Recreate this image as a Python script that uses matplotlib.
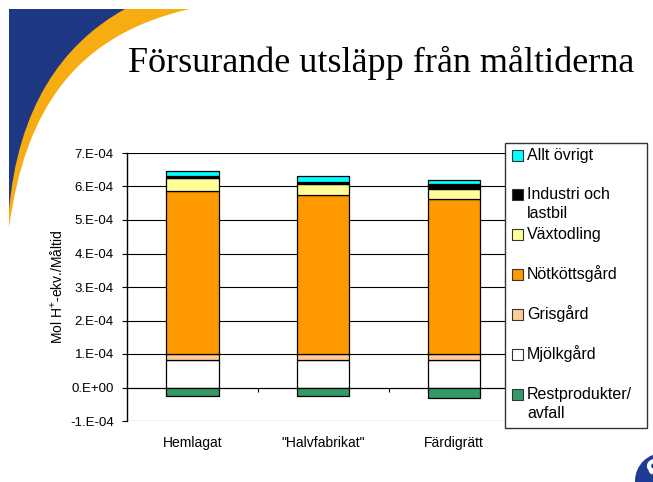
import matplotlib
matplotlib.use("Agg")
import matplotlib.pyplot as plt
import numpy as np
from matplotlib.patches import Rectangle, PathPatch, Circle, Arc
from matplotlib.path import Path
from matplotlib.ticker import FixedLocator, FuncFormatter
from matplotlib.transforms import blended_transform_factory

plt.rcParams["font.family"] = ["Liberation Sans", "DejaVu Sans"]
plt.rcParams["mathtext.fontset"] = "custom"
plt.rcParams["mathtext.rm"] = "Liberation Sans"
plt.rcParams["mathtext.it"] = "Liberation Sans:italic"

# ---- data (Mol H+-ekv. per måltid) ----
categories = ["Hemlagat", "\"Halvfabrikat\"", "Färdigrätt"]
restprodukter = [-0.25e-4, -0.25e-4, -0.32e-4]
mjolkgard = [0.83e-4, 0.83e-4, 0.83e-4]
grisgard = [0.18e-4, 0.18e-4, 0.18e-4]
notkottsgard = [4.86e-4, 4.73e-4, 4.61e-4]
vaxtodling = [0.37e-4, 0.32e-4, 0.31e-4]
industri = [0.08e-4, 0.08e-4, 0.15e-4]
allt_ovrigt = [0.13e-4, 0.18e-4, 0.11e-4]

series_names = ["Mjölkgård", "Grisgård", "Nötköttsgård", "Växtodling",
                "Industri och\nlastbil", "Allt övrigt"]
series_values = [mjolkgard, grisgard, notkottsgard, vaxtodling, industri, allt_ovrigt]
series_colors = ["#FFFFFF", "#FFCC99", "#FF9900", "#FFFF99", "#000000", "#00FFFF"]
rest_name = "Restprodukter/\navfall"
rest_color = "#339966"

W, H = 653, 482
fig = plt.figure(figsize=(W / 100, H / 100), dpi=100)
fig.patch.set_facecolor("white")

# ---- decorative background (pixel coordinates, origin top-left) ----
bg = fig.add_axes([0, 0, 1, 1], zorder=0)
bg.set_xlim(0, W)
bg.set_ylim(H, 0)
bg.axis("off")

gold = Path([(9, 9), (190, 9), (75, 35), (25, 110), (9, 228), (9, 9)],
            [Path.MOVETO, Path.LINETO, Path.CURVE4, Path.CURVE4, Path.CURVE4, Path.CLOSEPOLY])
bg.add_patch(PathPatch(gold, facecolor="#F7AD12", edgecolor="none"))
blue = Path([(9, 9), (125, 9), (60, 45), (18, 110), (9, 210), (9, 9)],
            [Path.MOVETO, Path.LINETO, Path.CURVE4, Path.CURVE4, Path.CURVE4, Path.CLOSEPOLY])
bg.add_patch(PathPatch(blue, facecolor="#1E3884", edgecolor="none"))

bg.text(128, 72, "Försurande utsläpp från måltiderna", fontsize=26,
        family=["Liberation Serif", "DejaVu Serif"], ha="left", va="baseline", color="black")

# ---- main chart ----
left, right, top, bottom = 127, 519.5, 153, 421
ax = fig.add_axes([left / W, (H - bottom) / H, (right - left) / W, (bottom - top) / H], zorder=1)
ax.set_facecolor("none")

x = np.arange(len(categories))
width = 0.4
base = np.zeros(len(categories))
for name, vals, col in zip(series_names, series_values, series_colors):
    ax.bar(x, vals, width, bottom=base, color=col, edgecolor="black", linewidth=0.9,
           label=name, zorder=3)
    base = base + np.array(vals)
ax.bar(x, restprodukter, width, bottom=0, color=rest_color, edgecolor="black",
       linewidth=0.9, label=rest_name, zorder=3)

ax.set_xlim(-0.5, 2.5)
ax.set_ylim(-1e-4, 7e-4)
yt = np.arange(-1, 8) * 1e-4
ax.yaxis.set_major_locator(FixedLocator(yt))


def excel_fmt(v, pos):
    m = round(v / 1e-4)
    if m == 0:
        return "0.E+00"
    return f"{m}.E-04"


ax.yaxis.set_major_formatter(FuncFormatter(excel_fmt))
ax.grid(axis="y", color="black", linewidth=0.8, zorder=0)
ax.set_axisbelow(True)
for s in ["top", "right"]:
    ax.spines[s].set_visible(False)
ax.spines["left"].set_linewidth(1.0)
ax.spines["bottom"].set_position(("data", 0))
ax.spines["bottom"].set_linewidth(0.8)
ax.set_xticks([0.5, 1.5, 2.5])
ax.set_xticklabels([])
ax.tick_params(axis="x", direction="out", length=3, width=0.8)
ax.tick_params(axis="y", direction="out", length=3.5, width=0.8, labelsize=9.5, pad=6)

lbl_tr = blended_transform_factory(ax.transData, ax.transAxes)
for i, c in enumerate(categories):
    ax.text(i, -(443 - 421) / (bottom - top), c, transform=lbl_tr, ha="center", va="center",
            fontsize=10)

ax.set_ylabel("Mol H$^{+}$-ekv./Måltid", fontsize=10)
ax.yaxis.set_label_coords((65 - left) / (right - left), 0.5)

# ---- legend (pixel coordinates) ----
ov = fig.add_axes([0, 0, 1, 1], zorder=2)
ov.set_xlim(0, W)
ov.set_ylim(H, 0)
ov.axis("off")
ov.add_patch(Rectangle((505, 142.5), 142, 285, facecolor="white", edgecolor="#333333",
                       linewidth=1.0))
legend_items = [("Allt övrigt", "#00FFFF", 155),
                ("Industri och\nlastbil", "#000000", 194),
                ("Växtodling", "#FFFF99", 234.5),
                ("Nötköttsgård", "#FF9900", 274.5),
                ("Grisgård", "#FFCC99", 314.5),
                ("Mjölkgård", "#FFFFFF", 354.5),
                ("Restprodukter/\navfall", rest_color, 394.5)]
for text, col, yc in legend_items:
    ov.add_patch(Rectangle((512, yc - 5.5), 11, 11, facecolor=col, edgecolor="#333333",
                           linewidth=0.8))
    for k, line in enumerate(text.split("\n")):
        ov.text(527, yc + 5 + 18.5 * k, line, fontsize=11.5, ha="left", va="baseline")

# corner logo
ov.add_patch(Circle((663, 481), 28, facecolor="#1E3C96", edgecolor="none"))
ov.add_patch(Arc((655, 466), 12, 10, theta1=30, theta2=270, color="white", linewidth=3))
ov.add_patch(Arc((655, 476), 12, 10, theta1=210, theta2=450, color="white", linewidth=3))

fig.savefig("out.png", dpi=100)
